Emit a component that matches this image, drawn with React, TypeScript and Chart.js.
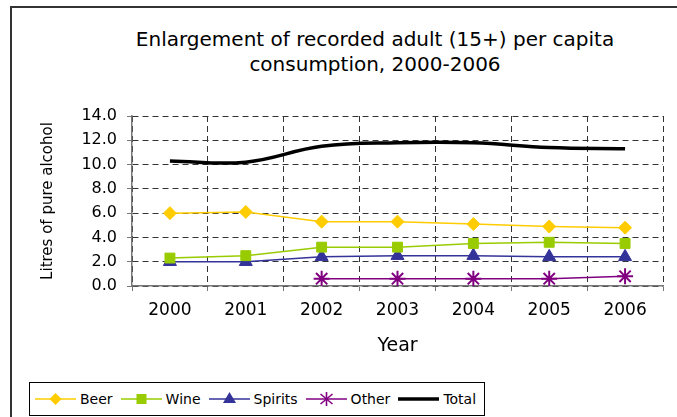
import React, { useEffect, useRef } from "react";
import { Chart, registerables } from "chart.js";
Chart.register(...registerables);

const titleLines = ["Enlargement of recorded adult (15+) per capita", "consumption, 2000-2006"];
const years = ["2000", "2001", "2002", "2003", "2004", "2005", "2006"];
const beer = [6.0, 6.1, 5.3, 5.3, 5.1, 4.9, 4.8];
const wine = [2.3, 2.5, 3.2, 3.2, 3.5, 3.6, 3.5];
const spirits = [2.0, 2.0, 2.4, 2.5, 2.5, 2.4, 2.4];
const other = [null, null, 0.6, 0.6, 0.6, 0.6, 0.8];
const total = [10.3, 10.2, 11.5, 11.8, 11.8, 11.4, 11.3];
const yTicks = [0, 2, 4, 6, 8, 10, 12, 14];

const FONT = "'DejaVu Sans', sans-serif";

const seriesStyle = [
  { label: "Beer", data: beer, color: "#FFCC00", point: "rectRot", radius: 6.5, width: 1.5 },
  { label: "Wine", data: wine, color: "#99CC00", point: "rect", radius: 7, width: 1.5 },
  { label: "Spirits", data: spirits, color: "#333399", point: "triangle", radius: 7.5, width: 1.5 },
  { label: "Other", data: other, color: "#800080", point: "star", radius: 8, width: 1.5 },
  { label: "Total", data: total, color: "#000000", point: "none", radius: 0, width: 3.5 },
];

function Marker({ kind, color }: { kind: string; color: string }) {
  const cx = 20.5, cy = 8;
  let m: any = null;
  if (kind === "rectRot") m = <polygon points={`${cx},${cy - 6} ${cx + 6},${cy} ${cx},${cy + 6} ${cx - 6},${cy}`} fill={color} />;
  else if (kind === "rect") m = <rect x={cx - 5} y={cy - 5} width={10} height={10} fill={color} />;
  else if (kind === "triangle") m = <polygon points={`${cx},${cy - 7} ${cx + 6.5},${cy + 4} ${cx - 6.5},${cy + 4}`} fill={color} />;
  else if (kind === "star")
    m = (
      <g stroke={color} strokeWidth={1.6}>
        <line x1={cx} y1={cy - 7} x2={cx} y2={cy + 7} />
        <line x1={cx - 6} y1={cy - 5} x2={cx + 6} y2={cy + 5} />
        <line x1={cx - 6} y1={cy + 5} x2={cx + 6} y2={cy - 5} />
      </g>
    );
  return (
    <svg width={41} height={16} style={{ display: "block" }}>
      <line x1={0} y1={cy} x2={41} y2={cy} stroke={color} strokeWidth={kind === "none" ? 3.5 : 1.5} />
      {m}
    </svg>
  );
}

export default function App() {
  const ref = useRef<HTMLCanvasElement | null>(null);
  useEffect(() => {
    if (!ref.current) return;
    const chart = new Chart(ref.current, {
      type: "line",
      data: {
        labels: years,
        datasets: seriesStyle.map((s) => ({
          label: s.label,
          data: s.data as any,
          borderColor: s.color,
          backgroundColor: s.color,
          borderWidth: s.width,
          pointStyle: s.point === "none" ? false : (s.point as any),
          pointRadius: s.radius,
          pointBorderWidth: s.point === "star" ? 2 : 1,
          pointBorderColor: s.color,
          pointBackgroundColor: s.color,
          tension: s.label === "Total" ? 0.4 : 0,
          spanGaps: false,
        })),
      },
      options: {
        animation: false,
        responsive: false,
        layout: { padding: { left: 0, right: 14, top: 116, bottom: 51 } },
        plugins: {
          legend: { display: false },
          tooltip: { enabled: false },
          title: { display: false },
        },
        scales: {
          x: {
            offset: true,
            grid: {
              offset: true,
              color: "#333",
              lineWidth: 1,
              tickLength: 5,
              tickColor: "#777",
              tickBorderDash: [],
            },
            border: { display: true, color: "#777", width: 1.5, dash: [6, 4] },
            ticks: { color: "#000", font: { family: FONT, size: 17 }, padding: 9, maxRotation: 0 },
            title: {
              display: true,
              text: "Year",
              color: "#000",
              font: { family: FONT, size: 19 },
              padding: { top: 0, bottom: 8.6 },
            },
            afterFit: (s: any) => {
              s.height = 80;
            },
          },
          y: {
            min: 0,
            max: 14,
            afterBuildTicks: (s: any) => {
              s.ticks = yTicks.map((v) => ({ value: v }));
            },
            grid: {
              color: "#333",
              lineWidth: 1,
              tickLength: 5,
              tickColor: "#777",
              tickBorderDash: [],
            },
            border: { display: true, color: "#777", width: 1.5, dash: [6, 4] },
            ticks: {
              color: "#000",
              font: { family: FONT, size: 16 },
              padding: 10,
              callback: (v: any) => Number(v).toFixed(1),
            },
            title: {
              display: true,
              text: "Litres of pure alcohol",
              color: "#000",
              font: { family: FONT, size: 15 },
              padding: { top: 39, bottom: 0 },
            },
            afterFit: (s: any) => {
              s.width = 132;
            },
          },
        },
      },
    });
    return () => chart.destroy();
  }, []);

  return (
    <div style={{ position: "fixed", left: 0, top: 0, width: 677, height: 417, background: "#fff", overflow: "hidden" }}>
      <div
        style={{
          position: "absolute",
          left: 10,
          top: 6,
          width: 700,
          height: 450,
          borderLeft: "2px solid #333",
          borderTop: "2px solid #333",
        }}
      />
      <div
        style={{
          position: "absolute",
          left: 75,
          top: 27,
          width: 600,
          textAlign: "center",
          fontFamily: FONT,
          fontSize: 20,
          lineHeight: "25px",
          color: "#000",
          whiteSpace: "nowrap",
        }}
      >
        {titleLines.map((t) => (
          <div key={t}>{t}</div>
        ))}
      </div>
      <canvas ref={ref} width={677} height={417} style={{ position: "absolute", left: 0, top: 0, width: 677, height: 417 }} />
      <div
        style={{
          position: "absolute",
          left: 29,
          top: 382,
          width: 456,
          height: 34,
          border: "1px solid #000",
          background: "#fff",
          display: "flex",
          alignItems: "center",
          paddingLeft: 5,
          boxSizing: "border-box",
          fontFamily: FONT,
          fontSize: 14,
          color: "#000",
        }}
      >
        {seriesStyle.map((s) => (
          <div key={s.label} style={{ display: "flex", alignItems: "center", marginRight: 8 }}>
            <Marker kind={s.point} color={s.color} />
            <span style={{ marginLeft: 4 }}>{s.label}</span>
          </div>
        ))}
      </div>
    </div>
  );
}
